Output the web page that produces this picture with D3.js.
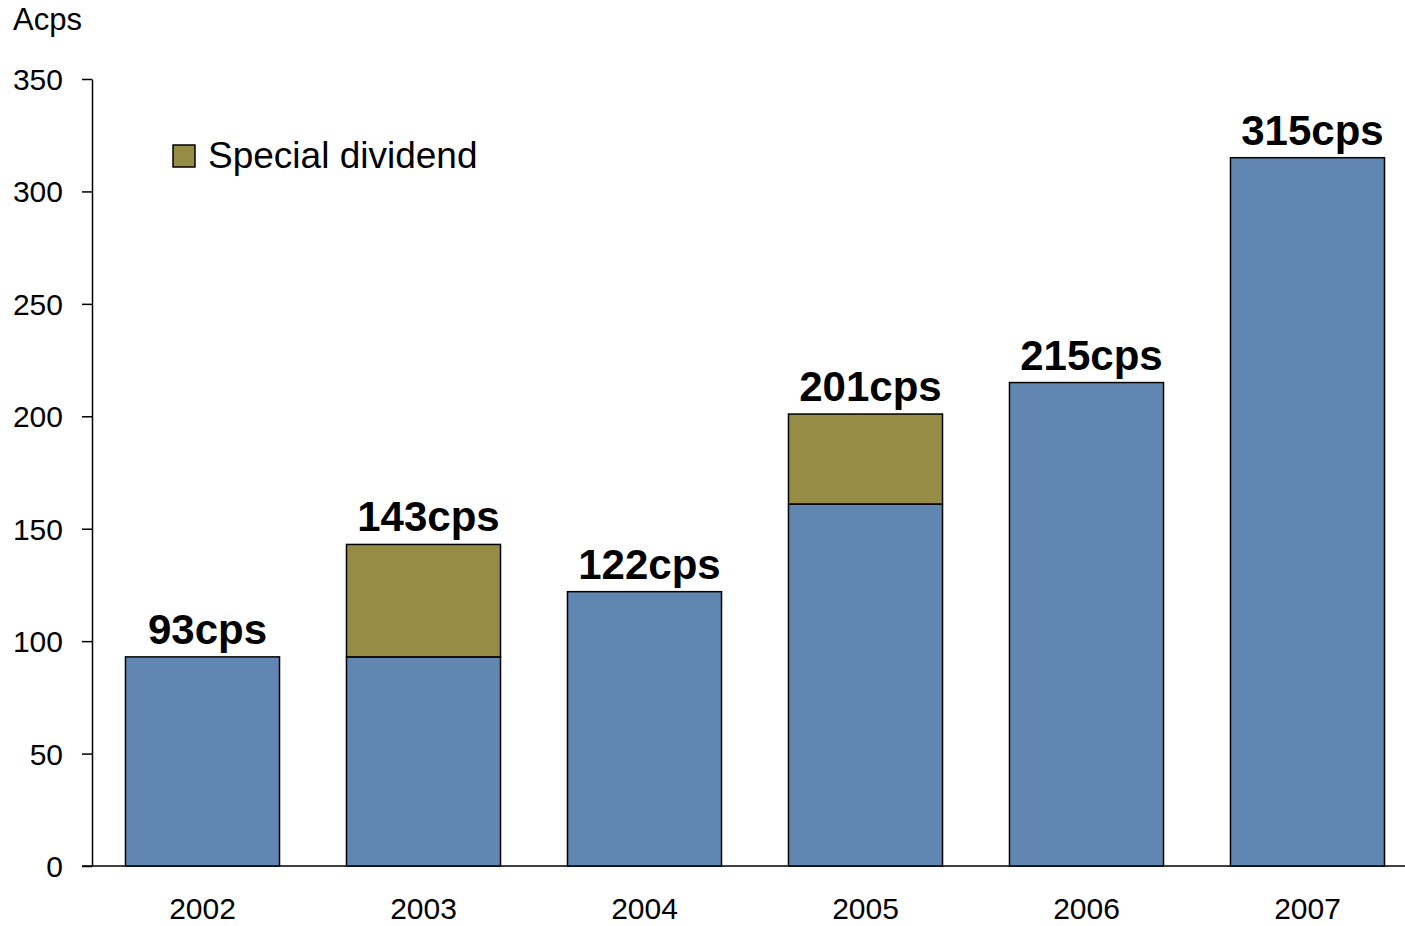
<!DOCTYPE html>
<html>
<head>
<meta charset="utf-8">
<script src="https://cdn.jsdelivr.net/npm/d3@7"></script>
<style>
  html, body { margin: 0; padding: 0; background: #fff; }
  svg { display: block; font-family: "Liberation Sans", Arial, sans-serif; }
</style>
</head>
<body>
<svg id="chart" width="1405" height="926"></svg>
<script>
// Dividend per share, in cents
const years = ["2002", "2003", "2004", "2005", "2006", "2007"];
const ordinary = [93, 93, 122, 161, 215, 315];
const special = [0, 50, 0, 40, 0, 0];
const yTicks = [0, 50, 100, 150, 200, 250, 300, 350];
const unitLabel = "Acps";
const legendLabel = "Special dividend";

const blue = "#6186B1";
const olive = "#968C45";

const svg = d3.select("#chart");
const W = 1405;

const x = d3.scaleBand()
  .domain(years)
  .range([92, 1418])
  .paddingInner(0.303)
  .paddingOuter(0.1515);

const y = d3.scaleLinear().domain([0, 350]).range([866, 79]);

const rows = years.map((yr, i) => ({
  year: yr,
  ordinary: ordinary[i],
  special: special[i],
  total: ordinary[i] + special[i]
}));

// Y axis
const yAxis = svg.append("g")
  .attr("transform", "translate(92,0)")
  .call(d3.axisLeft(y).tickValues(yTicks).tickSize(10).tickPadding(19).tickSizeOuter(0));
yAxis.select(".domain").attr("stroke", "#000").attr("stroke-width", 1.5);
yAxis.selectAll(".tick line").attr("stroke", "#000").attr("stroke-width", 1.5);
yAxis.selectAll(".tick text")
  .attr("font-size", 30)
  .attr("fill", "#000")
  .attr("font-family", "Liberation Sans, Arial, sans-serif")
  .attr("dy", "0.35em");

// X axis baseline
svg.append("line")
  .attr("x1", 82).attr("x2", W)
  .attr("y1", y(0)).attr("y2", y(0))
  .attr("stroke", "#000").attr("stroke-width", 1.5);

// Year labels
svg.append("g").selectAll("text")
  .data(rows).join("text")
  .attr("x", d => x(d.year) + x.bandwidth() / 2)
  .attr("y", 919)
  .attr("text-anchor", "middle")
  .attr("font-size", 30)
  .attr("fill", "#000")
  .text(d => d.year);

// Ordinary dividend bars
svg.append("g").selectAll("rect")
  .data(rows).join("rect")
  .attr("x", d => x(d.year))
  .attr("width", x.bandwidth())
  .attr("y", d => y(d.ordinary))
  .attr("height", d => y(0) - y(d.ordinary))
  .attr("fill", blue)
  .attr("stroke", "#000")
  .attr("stroke-width", 1.5);

// Special dividend segments
svg.append("g").selectAll("rect")
  .data(rows.filter(d => d.special > 0)).join("rect")
  .attr("x", d => x(d.year))
  .attr("width", x.bandwidth())
  .attr("y", d => y(d.total))
  .attr("height", d => y(d.ordinary) - y(d.total))
  .attr("fill", olive)
  .attr("stroke", "#000")
  .attr("stroke-width", 1.5);

// Total labels
svg.append("g").selectAll("text")
  .data(rows).join("text")
  .attr("x", d => x(d.year) + x.bandwidth() / 2 + 5)
  .attr("y", d => y(d.total) - 13)
  .attr("text-anchor", "middle")
  .attr("font-size", 42)
  .attr("font-weight", "bold")
  .attr("fill", "#000")
  .text(d => d.total + "cps");

// Unit label
svg.append("text")
  .attr("x", 13).attr("y", 30)
  .attr("font-size", 31)
  .attr("fill", "#000")
  .text(unitLabel);

// Legend
const lg = svg.append("g");
lg.append("rect")
  .attr("x", 173).attr("y", 145)
  .attr("width", 22).attr("height", 22)
  .attr("fill", olive)
  .attr("stroke", "#000")
  .attr("stroke-width", 1.5);
lg.append("text")
  .attr("x", 208).attr("y", 168)
  .attr("font-size", 37)
  .attr("fill", "#000")
  .text(legendLabel);
</script>
</body>
</html>
